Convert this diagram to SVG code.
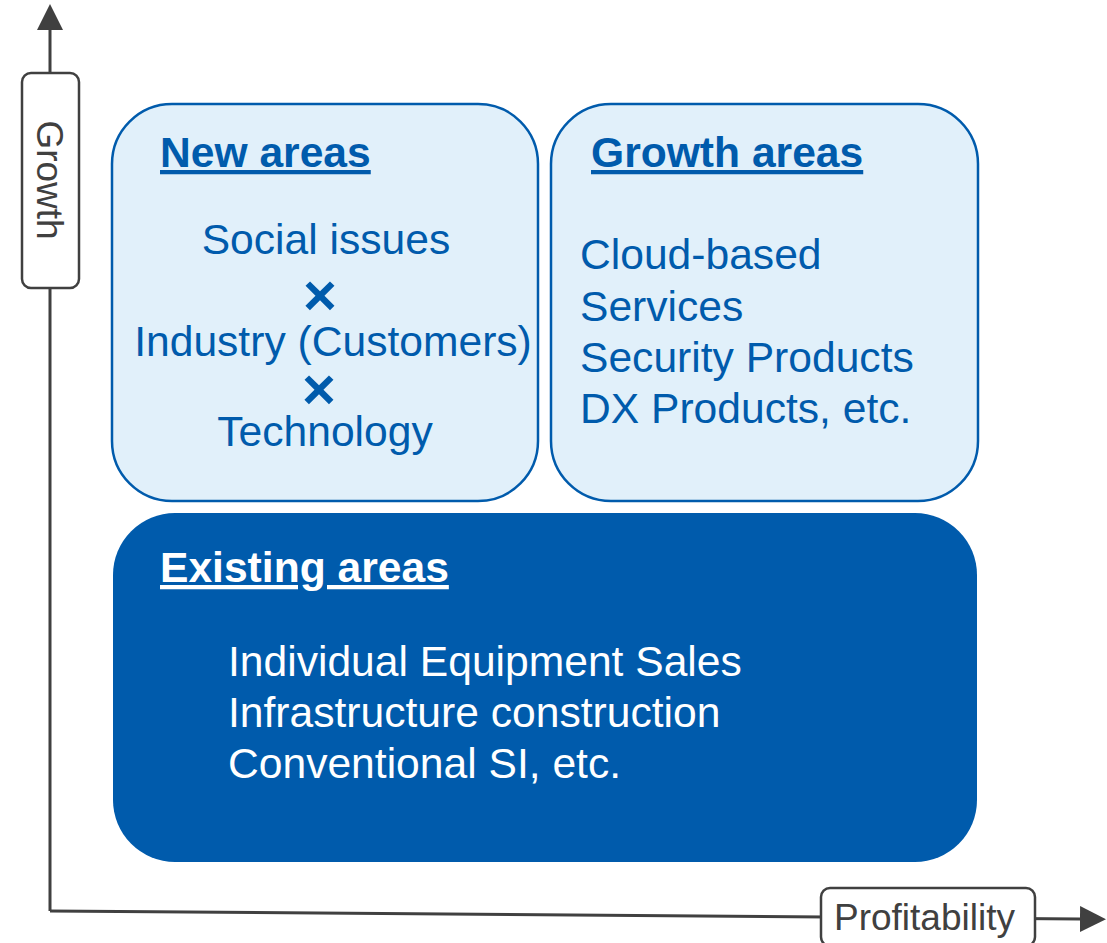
<svg xmlns="http://www.w3.org/2000/svg" width="1107" height="943" viewBox="0 0 1107 943">
  <style>
    .area-light { fill: #E1F0FA; stroke: #005BAC; stroke-width: 2.5; }
    .area-dark { fill: #005BAC; stroke: none; }
    .axis-label { fill: #FFFFFF; stroke: #404040; stroke-width: 2.5; }
    .axis { stroke: #404040; stroke-width: 3; fill: none; }
    .t { font-family: "Liberation Sans", Arial, sans-serif; font-size: 42.6px; }
    .head { font-weight: bold; text-decoration: underline; }
    .blue { fill: #005BAC; }
    .white { fill: #FFFFFF; }
    .gray { fill: #404040; font-size: 37px; }
    .times { font-family: "Liberation Sans", Arial, sans-serif; font-weight: bold; font-size: 58px; fill: #005BAC; text-anchor: middle; }
  </style>
  <defs>
    <marker id="arrow" viewBox="0 0 26 26" refX="0" refY="13" markerWidth="26" markerHeight="26" markerUnits="userSpaceOnUse" orient="auto">
      <path d="M0,0 L26,13 L0,26 Z" fill="#404040"/>
    </marker>
  </defs>

  <rect width="1107" height="943" fill="#FFFFFF"/>

  <!-- axes -->
  <g id="connectors">
    <path class="axis" d="M50,911 L50,30" marker-end="url(#arrow)"/>
    <path class="axis" d="M50,911 L1080,919" marker-end="url(#arrow)"/>
  </g>

  <!-- axis labels -->
  <g id="growth-label">
    <rect class="axis-label" x="22" y="73" width="57" height="215" rx="9"/>
    <text class="t gray" text-anchor="middle" transform="translate(37,180) rotate(90)">Growth</text>
  </g>
  <g id="profitability-label">
    <rect class="axis-label" x="821" y="888" width="214" height="58" rx="9"/>
    <text class="t gray" x="834" y="930">Profitability</text>
  </g>

  <!-- new areas -->
  <g id="new-areas">
    <rect class="area-light" x="112" y="104" width="426" height="397" rx="60"/>
    <text class="t head blue" x="160" y="167">New areas</text>
    <text class="t blue" x="326" y="254" text-anchor="middle">Social issues</text>
    <text class="times" x="320" y="315">×</text>
    <text class="t blue" x="333" y="356" text-anchor="middle">Industry (Customers)</text>
    <text class="times" x="319" y="409">×</text>
    <text class="t blue" x="325" y="446" text-anchor="middle">Technology</text>
  </g>

  <!-- growth areas -->
  <g id="growth-areas">
    <rect class="area-light" x="551" y="104" width="427" height="397" rx="60"/>
    <text class="t head blue" x="591" y="167">Growth areas</text>
    <text class="t blue" x="580" y="269">Cloud-based</text>
    <text class="t blue" x="580" y="321">Services</text>
    <text class="t blue" x="580" y="372">Security Products</text>
    <text class="t blue" x="580" y="423">DX Products, etc.</text>
  </g>

  <!-- existing areas -->
  <g id="existing-areas">
    <rect class="area-dark" x="113" y="513" width="864" height="349" rx="62"/>
    <text class="t head white" x="160" y="582">Existing areas</text>
    <text class="t white" x="228" y="676">Individual Equipment Sales</text>
    <text class="t white" x="228" y="727">Infrastructure construction</text>
    <text class="t white" x="228" y="778">Conventional SI, etc.</text>
  </g>
</svg>
